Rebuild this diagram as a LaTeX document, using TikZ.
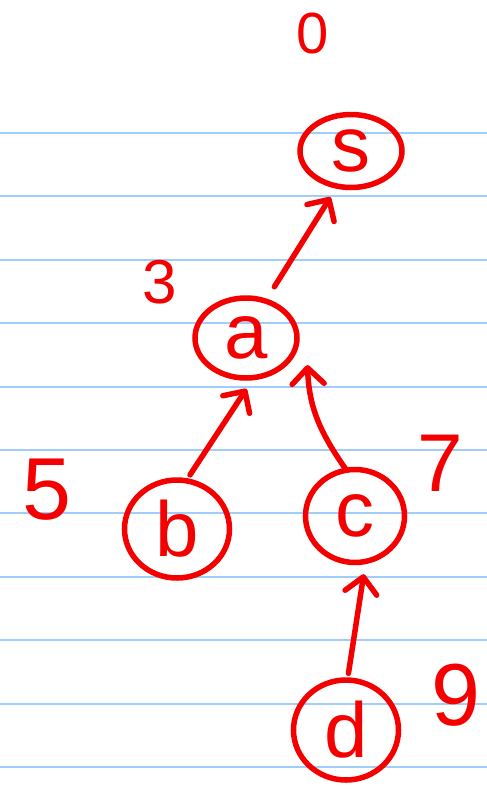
\documentclass[tikz,border=0pt]{standalone}
\usepackage{fontspec}
\setmainfont{Liberation Sans}
\usetikzlibrary{shapes.geometric,arrows.meta,calc}
\definecolor{inkred}{RGB}{245,0,0}
\definecolor{ruleblue}{RGB}{160,205,250}

\begin{document}
\begin{tikzpicture}[
    x=1pt, y=1pt,
    vertex/.style={ellipse, draw=inkred, line width=5.5pt, inner sep=0pt, text=inkred, font=\fontsize{78}{84}\selectfont},
    line/.style={draw=inkred, line width=5.5pt, line cap=round, -{Straight Barb[length=16pt,width=32pt,round]}},
    dist/.style={text=inkred, inner sep=0pt}
]
\useasboundingbox (0,0) rectangle (487,-801);
% ruled paper
\foreach \i in {0,...,10}
  \draw [ruleblue, line width=2pt] (0,-133-63.4*\i) -- (487,-133-63.4*\i);

% Place nodes
\node [vertex, minimum width=102pt, minimum height=73pt] (s) at (351,-151) {s};
\node [vertex, minimum width=102pt, minimum height=80pt] (a) at (246,-338) {a};
\node [vertex, minimum width=105pt, minimum height=98pt] (b) at (177,-529) {b};
\node [vertex, minimum width=99pt, minimum height=93pt] (c) at (355,-516) {c};
\node [vertex, minimum width=105pt, minimum height=100pt] (d) at (346,-730) {d};

% distances
\node [dist, font=\fontsize{58}{62}\selectfont] (ds) at (313,-34) {0};
\node [dist, font=\fontsize{62}{66}\selectfont] (da) at (160,-282) {3};
\node [dist, font=\fontsize{88}{92}\selectfont] (db) at (47,-490) {5};
\node [dist, font=\fontsize{82}{86}\selectfont] (dc) at (440,-463) {7};
\node [dist, font=\fontsize{88}{92}\selectfont] (dd) at (456,-695) {9};

% Draw edges
\draw [line, shorten <=14pt, shorten >=10pt] (a.62) -- (s.248);
\draw [line, shorten <=4pt, shorten >=10pt] (b.78) -- (a.278);
\draw [line, shorten <=-2pt] (c.102) to [out=125, in=-88] ($(a.-30)+(18,-2)$);
\draw [line, shorten <=4pt, shorten >=10pt] (d.88) -- (c.282);
\end{tikzpicture}
\end{document}
